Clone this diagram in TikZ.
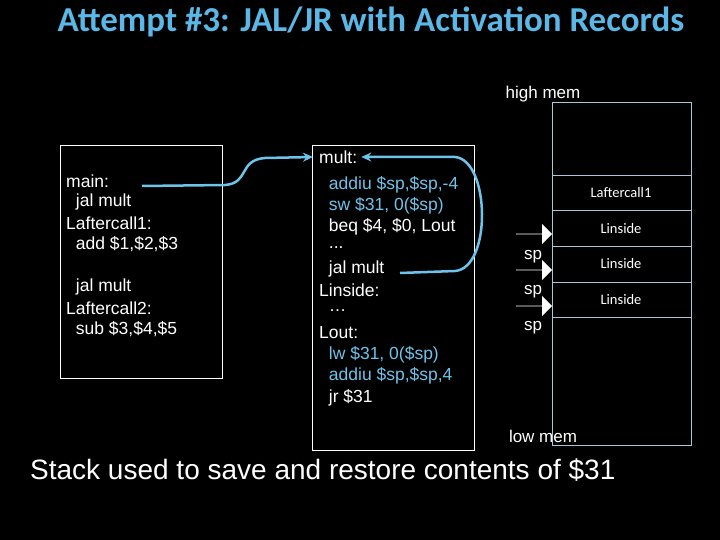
\documentclass[tikz,border=0pt]{standalone}
\usepackage{fontspec}
\setmainfont{Liberation Sans}
\newfontfamily\calfont{Carlito}
\usetikzlibrary{arrows.meta,shapes.arrows}
\definecolor{ttl}{HTML}{5BB8E6}
\definecolor{code}{HTML}{6EC3EA}
\definecolor{stk}{HTML}{A8C8D8}
\tikzset{
 codeln/.style={anchor=west,inner sep=0pt,font=\fontsize{17.5}{20}\selectfont,text=white},
 bl/.style={codeln,text=code},
 stktxt/.style={font=\calfont\fontsize{14.5}{16}\selectfont,text=white,inner sep=0pt},
 link/.style={draw=code,line width=2.5pt,-{Stealth[length=10pt,width=9pt]}},
 sparrow/.style={single arrow,fill=white,minimum height=36pt,minimum width=20pt,single arrow head extend=4pt,inner sep=0pt,single arrow head indent=0pt},
}
\begin{document}
\begin{tikzpicture}[x=1pt,y=-1pt]
\fill[black] (0,0) rectangle (720,540);
\useasboundingbox (0,0) rectangle (720,540);
\node[font=\calfont\bfseries\fontsize{35}{38}\selectfont,text=ttl] (title) at (371,22) {Attempt \#3: JAL/JR with Activation Records};
\draw[white,line width=0.8pt] (60,145) rectangle (222,378);
\draw[white,line width=0.8pt] (312,145) rectangle (474,450);
\node[codeln] (m1) at (66,181) {main:};
\node[codeln] (m2) at (66,202) {\ \ jal mult};
\node[codeln] (m3) at (66,223) {Laftercall1:};
\node[codeln] (m4) at (66,244) {\ \ add \$1,\$2,\$3};
\node[codeln] (m5) at (66,287) {\ \ jal mult};
\node[codeln] (m6) at (66,308) {Laftercall2:};
\node[codeln] (m7) at (66,329) {\ \ sub \$3,\$4,\$5};
\node[codeln] (c1) at (319,157) {mult:};
\node[bl] (c2) at (319,185) {\ \ addiu \$sp,\$sp,-4};
\node[bl] (c3) at (319,206) {\ \ sw \$31, 0(\$sp)};
\node[codeln] (c4) at (319,227) {\ \ beq \$4, \$0, Lout};
\node[codeln] (c5) at (319,248) {\ \ ...};
\node[codeln] (c6) at (319,269) {\ \ jal mult};
\node[codeln] (c7) at (319,290) {Linside:};
\node[codeln] (c8) at (319,311) {\ \ \dots};
\node[codeln] (c9) at (319,333) {Lout:};
\node[bl] (c10) at (319,355) {\ \ lw \$31, 0(\$sp)};
\node[bl] (c11) at (319,376) {\ \ addiu \$sp,\$sp,4};
\node[codeln] (c12) at (319,398) {\ \ jr \$31};
% links
\coordinate (s1) at (142,186);
\draw[link] (s1) -- (225,185) .. controls (250,183) and (238,160) .. (265,158) -- ([xshift=-6pt]c1.west);
\coordinate (s2) at (400,273);
\draw[link] (s2) -- (455,271) .. controls (492,268) and (490,160) .. (455,157) -- ([xshift=4pt]c1.east);
% stack
\draw[stk,line width=0.8pt] (552,102) rectangle (691,445);
\foreach \yy in {175,210,246,282,317} \draw[stk,line width=0.8pt] (552,\yy) -- (691,\yy);
\node[stktxt] (s1t) at (621,193) {Laftercall1};
\node[stktxt] (s2t) at (621,229) {Linside};
\node[stktxt] (s3t) at (621,264) {Linside};
\node[stktxt] (s4t) at (621,300) {Linside};
\node[font=\fontsize{17}{20}\selectfont,text=white] (hm) at (543,94) {high mem};
\node[font=\fontsize{17}{20}\selectfont,text=white] (lm) at (543,436) {low mem};
\foreach \yy/\nm in {234/a1,270/a2,306/a3} \node[sparrow] (\nm) at (534,\yy) {};
\foreach \yy/\nm in {257/p1,292/p2,328/p3} \node[font=\fontsize{17}{20}\selectfont,text=white] (\nm) at (533,\yy) {sp};
\node[anchor=west,inner sep=0pt,font=\fontsize{28}{32}\selectfont,text=white] (bot) at (30,470) {Stack used to save and restore contents of \$31};
\end{tikzpicture}
\end{document}
